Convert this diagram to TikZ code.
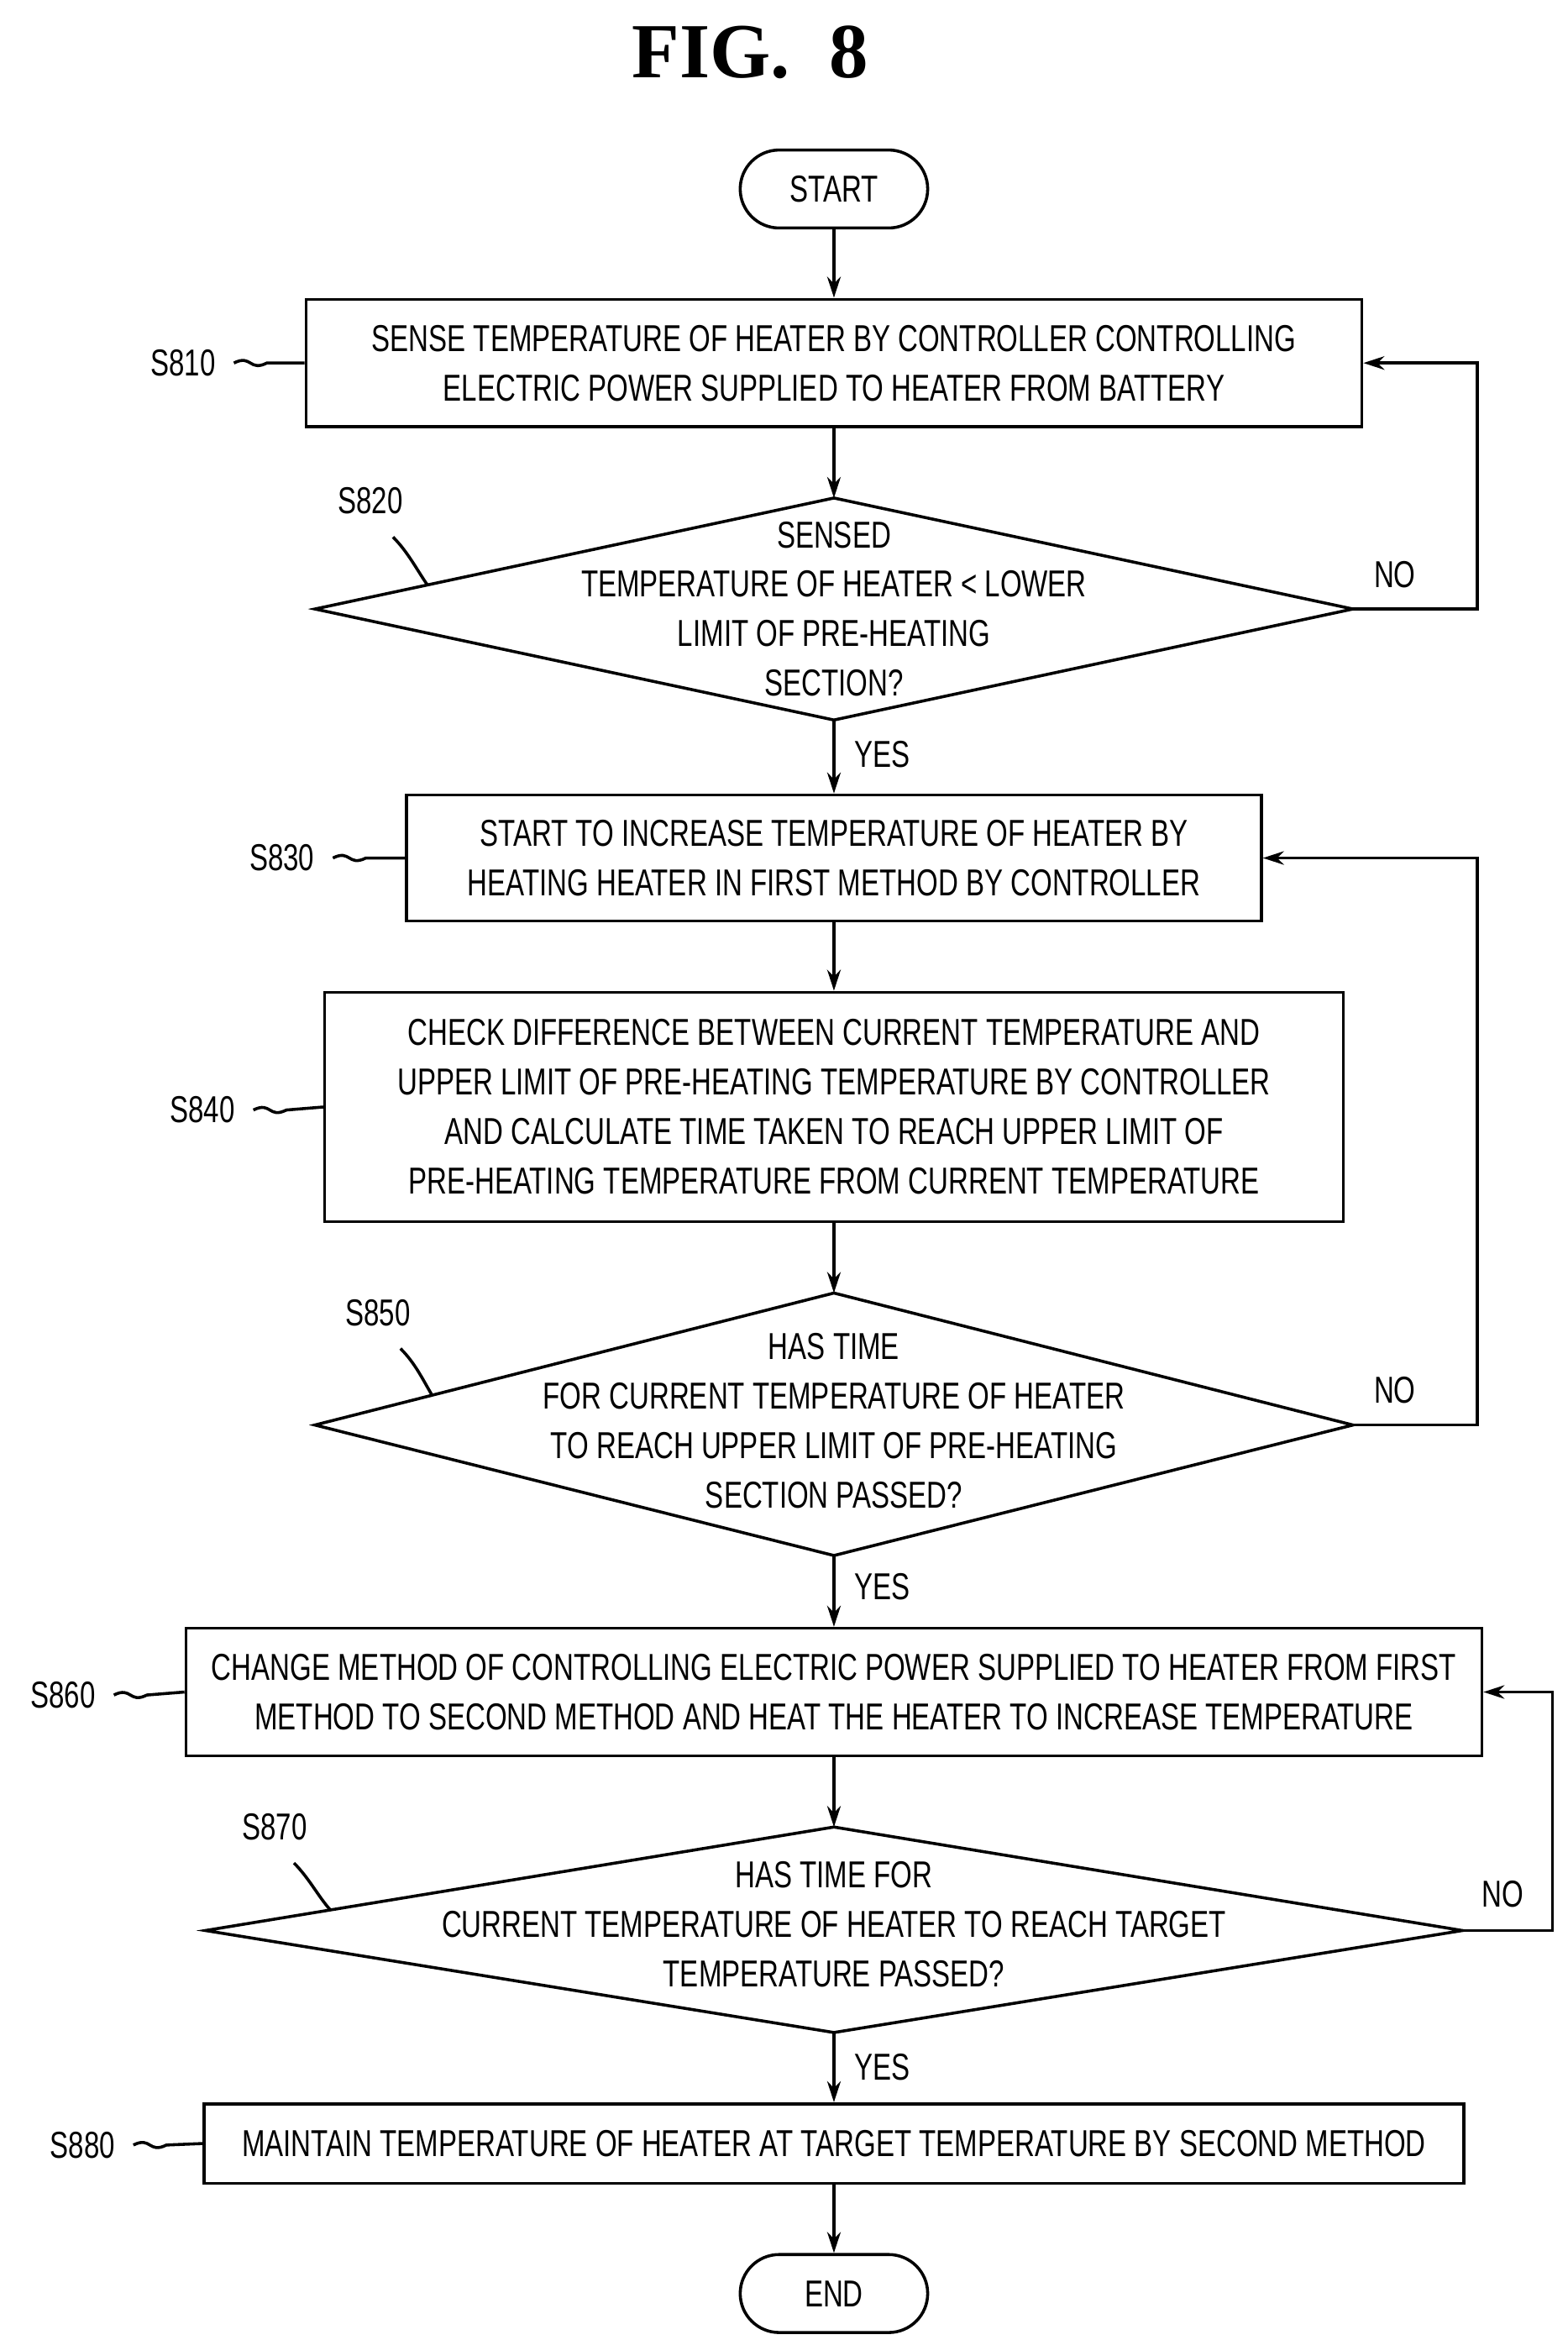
\documentclass[tikz,border=0pt]{standalone}
\usepackage{fontspec}
\setmainfont{Liberation Sans}[FakeStretch=0.74]
\newfontfamily\titlefont{Liberation Serif}
\usetikzlibrary{shapes.geometric,arrows.meta}
\begin{document}
\begin{tikzpicture}[x=1pt,y=-1pt,line width=2pt,
  txt/.style={font=\fontsize{25}{33}\selectfont,align=center},
  box/.style={draw,txt,inner sep=0pt},
  term/.style={draw,txt,rounded corners=26pt,minimum width=125pt,minimum height=52pt},
  dia/.style={draw,txt,diamond,inner sep=0pt},
  lab/.style={txt},
  arr/.style={-{Stealth[length=14pt,width=9pt]}}]
\useasboundingbox (0,0) rectangle (1045,1560);
\node[font=\titlefont\bfseries\fontsize{52}{52}\selectfont] (title) at (500,35) {FIG.~~8};
\node[term] (start) at (556,126) {START};
\node[box,minimum width=704pt,minimum height=85pt] (s810) at (556,242) {SENSE TEMPERATURE OF HEATER BY CONTROLLER CONTROLLING\\ELECTRIC POWER SUPPLIED TO HEATER FROM BATTERY};
\draw (210,406) coordinate (d1l) -- (556,332) coordinate (d1t) -- (902,406) coordinate (d1r) -- (556,480) coordinate (d1b) -- cycle;
\node[txt] (t820) at (556,406) {SENSED\\TEMPERATURE OF HEATER < LOWER\\LIMIT OF PRE-HEATING\\SECTION?};
\node[box,minimum width=570pt,minimum height=84pt] (s830) at (556,572) {START TO INCREASE TEMPERATURE OF HEATER BY\\HEATING HEATER IN FIRST METHOD BY CONTROLLER};
\node[box,minimum width=679pt,minimum height=153pt] (s840) at (556,738) {CHECK DIFFERENCE BETWEEN CURRENT TEMPERATURE AND\\UPPER LIMIT OF PRE-HEATING TEMPERATURE BY CONTROLLER\\AND CALCULATE TIME TAKEN TO REACH UPPER LIMIT OF\\PRE-HEATING TEMPERATURE FROM CURRENT TEMPERATURE};
\draw (210,950) coordinate (d2l) -- (556,862) coordinate (d2t) -- (902,950) coordinate (d2r) -- (556,1037) coordinate (d2b) -- cycle;
\node[txt] (t850) at (556,947) {HAS TIME\\FOR CURRENT TEMPERATURE OF HEATER\\TO REACH UPPER LIMIT OF PRE-HEATING\\SECTION PASSED?};
\node[box,minimum width=864pt,minimum height=85pt] (s860) at (556,1128) {CHANGE METHOD OF CONTROLLING ELECTRIC POWER SUPPLIED TO HEATER FROM FIRST\\METHOD TO SECOND METHOD AND HEAT THE HEATER TO INCREASE TEMPERATURE};
\draw (137,1287) coordinate (d3l) -- (556,1218) coordinate (d3t) -- (975,1287) coordinate (d3r) -- (556,1355) coordinate (d3b) -- cycle;
\node[txt] (t870) at (556,1283) {HAS TIME FOR\\CURRENT TEMPERATURE OF HEATER TO REACH TARGET\\TEMPERATURE PASSED?};
\node[box,minimum width=840pt,minimum height=53pt] (s880) at (556,1429) {MAINTAIN TEMPERATURE OF HEATER AT TARGET TEMPERATURE BY SECOND METHOD};
\node[term] (end) at (556,1529) {END};
% arrows
\draw[arr] (start) -- (s810);
\draw[arr] (s810) -- (d1t);
\draw[arr] (d1b) -- (s830);
\draw[arr] (s830) -- (s840);
\draw[arr] (s840) -- (d2t);
\draw[arr] (d2b) -- (s860);
\draw[arr] (s860) -- (d3t);
\draw[arr] (d3b) -- (s880);
\draw[arr] (s880) -- (end);
\draw[arr] (d1r) -- (985,406) -- (985,242) -- (s810.east);
\draw[arr] (d2r) -- (985,950) -- (985,572) -- (s830.east);
\draw[arr] (d3r) -- (1035,1287) -- (1035,1128) -- (s860.east);
\node[lab] (no1) at (930,383) {NO};
\node[lab] (no2) at (930,927) {NO};
\node[lab] (no3) at (1002,1263) {NO};
\node[lab] (y1) at (588,503) {YES};
\node[lab] (y2) at (588,1058) {YES};
\node[lab] (y3) at (588,1378) {YES};
% step labels
\node[lab] (l810) at (122,242) {S810};
\draw (l810.east)+(8,0) .. controls +(12,-6) and +(-12,6) .. +(30,0) -- (s810.west);
\node[lab] (l830) at (188,572) {S830};
\draw (l830.east)+(8,0) .. controls +(12,-6) and +(-12,6) .. +(30,0) -- (s830.west);
\node[lab] (l840) at (135,740) {S840};
\draw (l840.east)+(8,0) .. controls +(12,-6) and +(-12,6) .. +(30,0) -- (s840.west);
\node[lab] (l860) at (42,1130) {S860};
\draw (l860.east)+(8,0) .. controls +(12,-6) and +(-12,6) .. +(30,0) -- (s860.west);
\node[lab] (l880) at (55,1430) {S880};
\draw (l880.east)+(8,0) .. controls +(12,-6) and +(-12,6) .. +(30,0) -- (s880.west);
\node[lab] (l820) at (247,334) {S820};
\draw (262,358) .. controls (272,368) and (278,380) .. (285,390);
\node[lab] (l850) at (252,875) {S850};
\draw (267,899) .. controls (277,909) and (282,920) .. (288,930);
\node[lab] (l870) at (183,1218) {S870};
\draw (196,1242) .. controls (206,1252) and (212,1264) .. (220,1273);
\end{tikzpicture}
\end{document}
